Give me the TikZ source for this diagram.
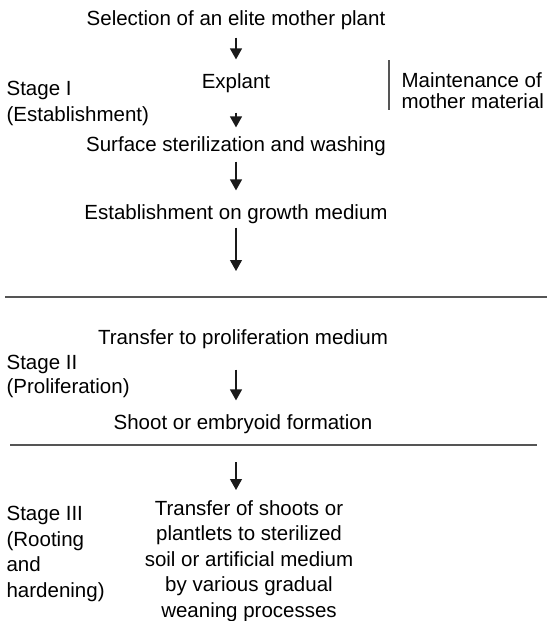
\documentclass[tikz,border=0pt]{standalone}
\usepackage{fontspec}
\setmainfont{Liberation Sans}
\usetikzlibrary{arrows.meta}
\definecolor{cline}{HTML}{555555}
\definecolor{cink}{HTML}{1A1A1A}
\tikzset{
  every picture/.style={font=\fontsize{20.5}{25.5}\selectfont, line width=1.2pt},
  stepbox/.style={anchor=base, inner sep=2pt, text height=15pt, text depth=4pt},
  stagebox/.style={anchor=north west, align=left, inner sep=0pt},
  arrow/.style={-{Triangle[length=11pt, width=12pt]}, draw=cink, line width=1.2pt},
  rule/.style={draw=cline, line width=1.5pt},
}

\begin{document}
\begin{tikzpicture}[x=1pt, y=-1pt]
  \useasboundingbox (0,0) rectangle (551,621);
  % stage I
  \node[stagebox] (s1) at (6,81) {Stage I\\(Establishment)};
  \node[stepbox] (a0) at (236,25) {Selection of an elite mother plant};
  \node[stepbox] (a1) at (236,88) {Explant};
  \node[stepbox] (a2) at (236,151) {Surface sterilization and washing};
  \node[stepbox] (a3) at (236,219) {Establishment on growth medium};
  \coordinate (a4) at (236,271);
  \node[stagebox, font=\fontsize{20.5}{21.5}\selectfont] (m1) at (401,72) {Maintenance of\\mother material};
  \draw[draw=cline, line width=1.2pt] (389,60) -- (389,110);
  \foreach \u/\v/\p/\q in {a0.south/a1.north/6/11, a1.south/a2.north/18/6,
                           a2.south/a3.north/4/11, a3.south/a4/2/0}
    \draw[arrow, shorten <=\p pt, shorten >=\q pt] (\u) -- (\v);
  \draw[rule] (5,297) -- (547,297);
  % stage II
  \node[stagebox, font=\fontsize{20.5}{23.5}\selectfont] (s2) at (6,355) {Stage II\\(Proliferation)};
  \node[stepbox] (b0) at (243,344) {Transfer to proliferation medium};
  \node[stepbox] (b1) at (243,429) {Shoot or embryoid formation};
  \draw[arrow, shorten <=19pt, shorten >=11pt] (b0.south -| a4) -- (b1.north -| a4);
  \draw[rule] (10,445) -- (537,445);
  % stage III
  \node[stagebox] (s3) at (6,506) {Stage III\\(Rooting\\and\\hardening)};
  \coordinate (c0) at (236,462);
  \node[anchor=north, align=center, inner sep=0pt] (c1) at (249,500)
    {Transfer of shoots or\\plantlets to sterilized\\soil or artificial medium\\by various gradual\\weaning processes};
  \draw[arrow, shorten >=10pt] (c0) -- (c0 |- c1.north);
\end{tikzpicture}
\end{document}
